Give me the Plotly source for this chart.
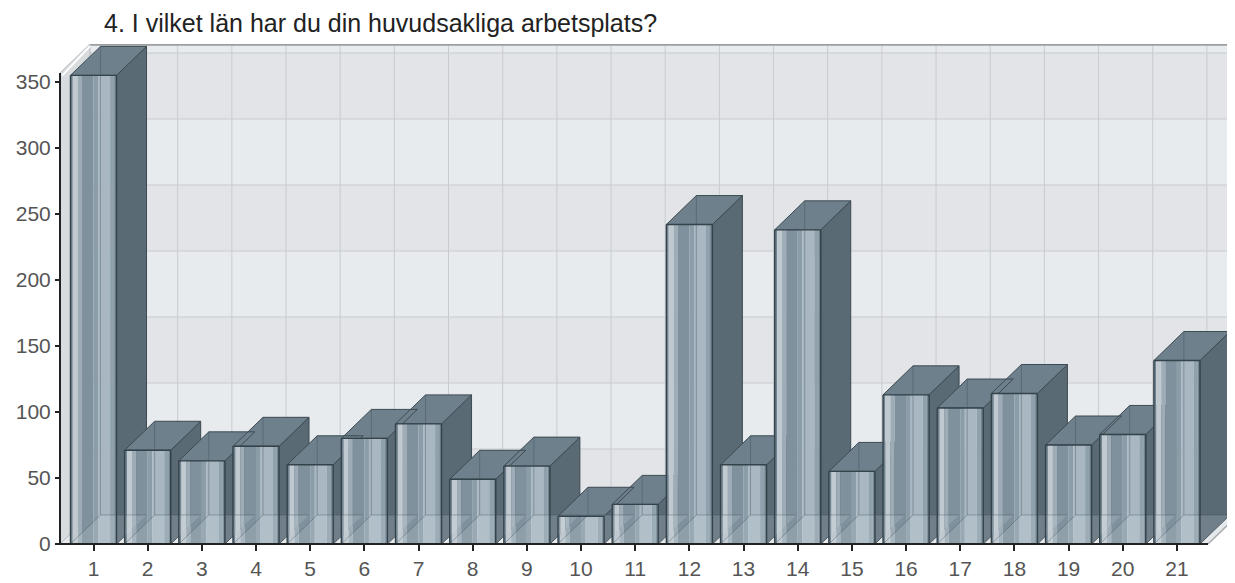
import plotly.graph_objects as go

# ---------------- data ----------------
title_text = "4. I vilket län har du din huvudsakliga arbetsplats?"
categories = [str(i) for i in range(1, 22)]
values = [355, 71, 63, 74, 60, 80, 91, 49, 59, 21, 30, 242, 60, 238, 55, 113, 103, 114, 75, 83, 139]
y_ticks = [0, 50, 100, 150, 200, 250, 300, 350]

# ---------------- geometry (pixel <-> data mapping, page pixels) ----------------
OFF = 8                                  # default page body margin
W, H = 1235 - OFF, 583 - OFF             # figure size
L, R, T, B = 55, 1235, 44, 548           # plot area in page pixels
PX_CAT = 54.17                           # pixels per category
PX_UNIT = 1.32                           # pixels per value unit
CAT1_PX = 93.5                           # page x of category 1
ZERO_PX = 544                            # page y of value 0


def xd(px):
    return 1 + (px - CAT1_PX) / PX_CAT


def yd(py):
    return (ZERO_PX - py) / PX_UNIT


XR = [xd(L), xd(R)]
YR = [yd(B), yd(T)]
X0 = xd(60)          # front-left corner of frame
XEND = xd(1208)      # front-right end of floor
DX = 30 / PX_CAT     # depth offset (x)
DY = 29 / PX_UNIT    # depth offset (y)
Y_TOP = YR[1]
Y_FRONT_TOP = Y_TOP - DY
BW = 0.85

positions = list(range(1, len(values) + 1))

FONT = "Liberation Sans, Arial, sans-serif"


def polys(shapes):
    xs, ys = [], []
    for pts in shapes:
        for (x, y) in pts:
            xs.append(x)
            ys.append(y)
        xs.append(pts[0][0])
        ys.append(pts[0][1])
        xs.append(None)
        ys.append(None)
    return xs, ys


def lines(segs):
    xs, ys = [], []
    for (a, b) in segs:
        xs += [a[0], b[0], None]
        ys += [a[1], b[1], None]
    return xs, ys


fig = go.Figure()


def add_fill(shapes, fill, line_color=None, line_width=0):
    xs, ys = polys(shapes)
    fig.add_trace(go.Scatter(
        x=xs, y=ys, mode="lines", fill="toself", fillcolor=fill,
        line=dict(color=line_color or fill, width=line_width),
        hoverinfo="skip", showlegend=False))


def add_lines(segs, color, width):
    xs, ys = lines(segs)
    fig.add_trace(go.Scatter(
        x=xs, y=ys, mode="lines", line=dict(color=color, width=width),
        hoverinfo="skip", showlegend=False))


# ---------------- back wall with bands ----------------
band_edges = y_ticks + [Y_FRONT_TOP]
for k in range(len(band_edges) - 1):
    lo, hi = band_edges[k], band_edges[k + 1]
    col = "#e2e4e7" if k % 2 == 0 else "#e8ebee"
    add_fill([[(X0 + DX, lo + DY), (XR[1], lo + DY), (XR[1], hi + DY), (X0 + DX, hi + DY)]], col)

# grid lines on the back wall
add_lines([((X0 + DX, v + DY), (XR[1], v + DY)) for v in y_ticks[1:]], "#c8cbcf", 1)
add_lines([((p + DX, DY), (p + DX, Y_TOP)) for p in positions], "#c8cbcf", 1)
# top border of back wall
add_lines([((X0 + DX, Y_TOP - 0.6), (XR[1], Y_TOP - 0.6))], "#9c9ea1", 2)

# ---------------- floor ----------------
add_fill([[(X0, 0), (XEND, 0), (XEND + DX, DY), (X0 + DX, DY)]], "#e6e9ec")
add_lines([((XEND, 0), (XEND + DX, DY))], "#a9adb1", 1.5)
add_lines([((XEND + 0.08, 0.4), (XEND + DX + 0.08, DY + 0.4))], "#ffffff", 1.5)

# ---------------- left wall ----------------
add_fill([[(X0, 0), (X0, Y_FRONT_TOP), (X0 + DX, Y_TOP), (X0 + DX, DY)]], "#d8dcdf", "#b5b9bd", 1)
add_lines([((X0 + 0.04, Y_FRONT_TOP - 2), (X0 + DX, Y_TOP - 1.5))], "#ffffff", 2)

# ---------------- bars ----------------
side_shapes, top_shapes = [], []
for p, v in zip(positions, values):
    xl, xr = p - BW / 2, p + BW / 2
    side_shapes.append([(xr, 0), (xr + DX, DY), (xr + DX, v + DY), (xr, v)])
    top_shapes.append([(xl, v), (xl + DX, v + DY), (xr + DX, v + DY), (xr, v)])

add_fill(side_shapes, "#5a6a74", "#3d4a52", 1)
add_fill(top_shapes, "#6d808c", "#3d4a52", 1)

stripes = [
    (0.00, 0.05, "#718390"),
    (0.05, 0.16, "#c0c9cf"),
    (0.16, 0.25, "#9dacb6"),
    (0.25, 0.50, "#7f919d"),
    (0.50, 0.60, "#8b9da9"),
    (0.60, 0.86, "#a8b7c1"),
    (0.86, 0.95, "#8fa1ac"),
    (0.95, 1.00, "#728490"),
]
for a, b, col in stripes:
    shapes = []
    for p, v in zip(positions, values):
        xl = p - BW / 2
        shapes.append([(xl + a * BW, 0), (xl + b * BW, 0), (xl + b * BW, v), (xl + a * BW, v)])
    add_fill(shapes, col)

# bottom face seen through the transparent front
add_fill([[(p - BW / 2, 0), (p + BW / 2, 0), (p + BW / 2 + DX, DY), (p - BW / 2 + DX, DY)]
          for p in positions], "rgba(215,230,235,0.18)")

# hidden back edges visible through the glass-like bars
hidden = []
for p, v in zip(positions, values):
    xl, xr = p - BW / 2, p + BW / 2
    hidden.append(((xl + DX, DY), (xl + DX, v + DY)))
    hidden.append(((xl + DX, DY), (xr + DX, DY)))
    hidden.append(((xl, 0), (xl + DX, DY)))
add_lines(hidden, "rgba(55,70,80,0.35)", 1)

# front outlines
add_lines([seg for p, v in zip(positions, values) for seg in [
    ((p - BW / 2, 0), (p - BW / 2, v)),
    ((p - BW / 2, v), (p + BW / 2, v)),
    ((p + BW / 2, v), (p + BW / 2, 0)),
]], "#34424a", 1.4)

# ---------------- axis lines ----------------
add_lines([((X0, 0), (XEND, 0))], "#222222", 2)
add_lines([((X0, 0), (X0, Y_FRONT_TOP))], "#222222", 2)

# ---------------- layout ----------------
plot_w = R - L
plot_h = B - T
fig.update_layout(
    width=W, height=H, autosize=False,
    margin=dict(l=L - OFF, r=(W + OFF) - R, t=T - OFF, b=(H + OFF) - B, pad=0),
    paper_bgcolor="white", plot_bgcolor="white",
    showlegend=False,
    title=dict(text=title_text, x=(104 - OFF) / W, xanchor="left", xref="container",
               y=1 - (23 - OFF) / H, yanchor="middle", yref="container",
               font=dict(family=FONT, size=25, color="#222222")),
    xaxis=dict(range=XR, domain=[0, 1], showgrid=False, zeroline=False, showline=False,
               tickmode="array", tickvals=positions, ticktext=categories,
               ticks="outside", ticklen=6, tickwidth=1.5, tickcolor="#222222",
               tickfont=dict(family=FONT, size=21, color="#555555"),
               anchor="free", position=(B - ZERO_PX) / plot_h, fixedrange=True),
    yaxis=dict(range=YR, domain=[0, 1], showgrid=False, zeroline=False, showline=False,
               tickmode="array", tickvals=y_ticks, ticktext=[str(t) for t in y_ticks],
               ticks="outside", ticklen=5, tickwidth=1.5, tickcolor="#222222",
               tickfont=dict(family=FONT, size=21, color="#555555"),
               anchor="free", position=(60 - L) / plot_w, fixedrange=True),
)

fig.write_html("out.html")
